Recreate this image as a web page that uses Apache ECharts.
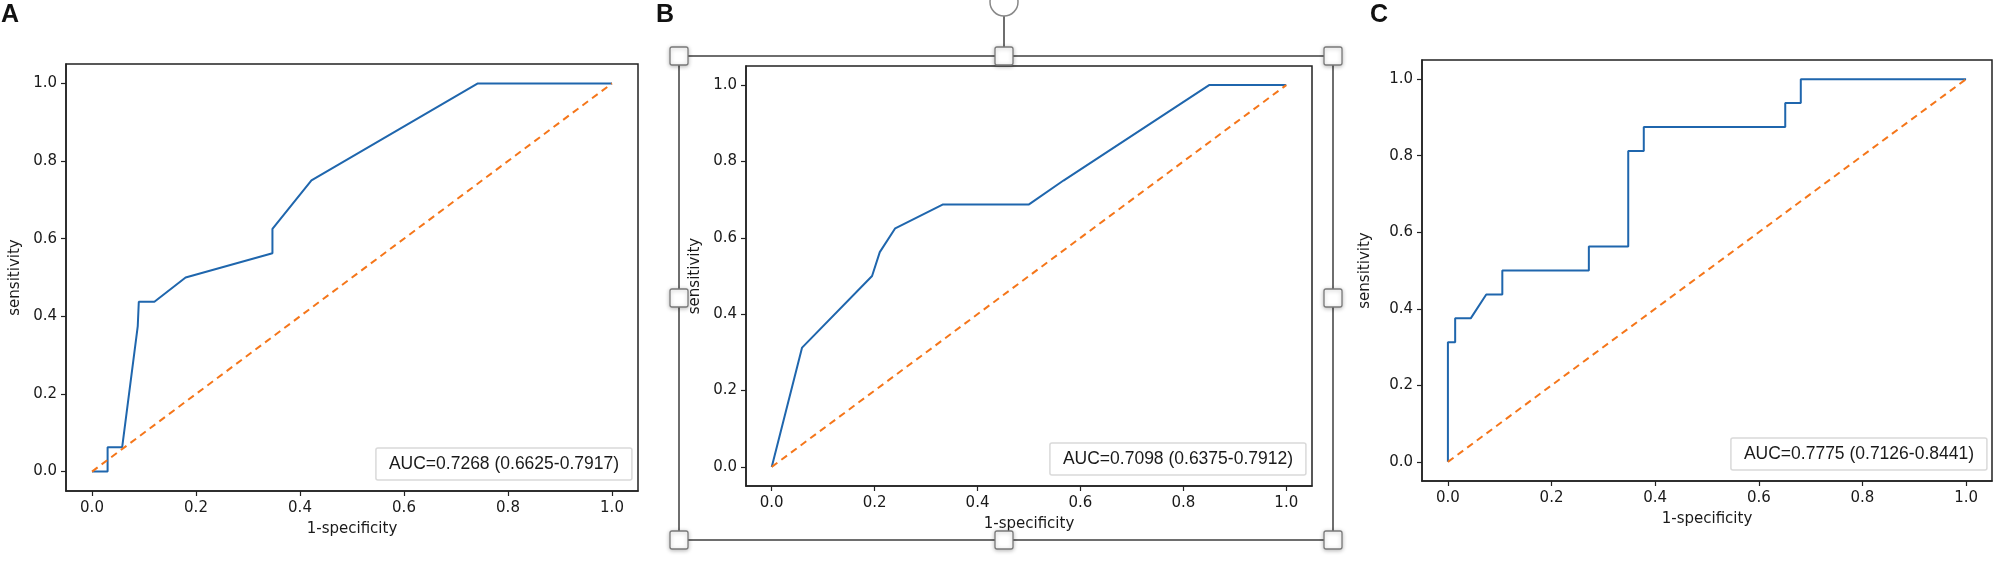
<!DOCTYPE html>
<html>
<head>
<meta charset="utf-8">
<title>ROC curves</title>
<script src="https://cdn.jsdelivr.net/npm/echarts@6/dist/echarts.min.js"></script>
<style>
  html, body { margin: 0; padding: 0; background: #fff; }
  #main { width: 2009px; height: 561px; }
</style>
</head>
<body>
<div id="main"></div>
<script>
// ROC points (x = 1-specificity, y = sensitivity)
var fprA = [0, 0.03, 0.03, 0.058, 0.088, 0.09, 0.12, 0.18, 0.347, 0.347, 0.422, 0.742, 1.0];
var tprA = [0, 0, 0.0625, 0.0625, 0.375, 0.4375, 0.4375, 0.5, 0.5625, 0.625, 0.75, 1.0, 1.0];

var fprB = [0, 0.059, 0.195, 0.21, 0.24, 0.333, 0.5, 0.567, 0.85, 1.0];
var tprB = [0, 0.3125, 0.5, 0.5625, 0.625, 0.6875, 0.6875, 0.75, 1.0, 1.0];

var fprC = [0, 0, 0.014, 0.014, 0.044, 0.074, 0.105, 0.105, 0.272, 0.272, 0.348, 0.348, 0.378, 0.378, 0.651, 0.651, 0.681, 0.681, 1.0];
var tprC = [0, 0.3125, 0.3125, 0.375, 0.375, 0.4375, 0.4375, 0.5, 0.5, 0.5625, 0.5625, 0.8125, 0.8125, 0.875, 0.875, 0.9375, 0.9375, 1.0, 1.0];

var chance = [0, 1];
var ticks = [0, 0.2, 0.4, 0.6, 0.8, 1.0];
var panels = ['A', 'B', 'C'];
var aucLabels = [
    'AUC=0.7268 (0.6625-0.7917)',
    'AUC=0.7098 (0.6375-0.7912)',
    'AUC=0.7775 (0.7126-0.8441)'
];

function pairs(xs, ys) {
    var out = [];
    for (var i = 0; i < xs.length; i++) out.push([xs[i], ys[i]]);
    return out;
}

var myChart = echarts.init(document.getElementById('main'));

var grids = [
    { left: 66, top: 64, width: 572, height: 427 },
    { left: 746, top: 66, width: 566, height: 420 },
    { left: 1422, top: 60, width: 570, height: 421 }
];
var yNameGap = [43, 43, 49];
var legendPos = [
    { right: 1377, bottom: 81 },
    { right: 703, bottom: 86 },
    { right: 22, bottom: 91 }
];
var rocs = [pairs(fprA, tprA), pairs(fprB, tprB), pairs(fprC, tprC)];

var tickFont = { fontFamily: 'DejaVu Sans', fontSize: 15, color: '#1a1a1a' };

var xAxes = [], yAxes = [], series = [], titles = [], gridOpts = [];
for (var i = 0; i < 3; i++) {
    gridOpts.push({
        left: grids[i].left, top: grids[i].top,
        width: grids[i].width, height: grids[i].height,
        show: true, borderColor: '#222', borderWidth: 1.5,
        backgroundColor: '#fff'
    });
    xAxes.push({
        type: 'value', gridIndex: i, min: -0.05, max: 1.05,
        name: '1-specificity', nameLocation: 'middle', nameGap: 31,
        nameTextStyle: tickFont,
        axisLine: { show: true, onZero: false, lineStyle: { color: '#222', width: 1.5 } },
        axisTick: { show: true, length: 5, customValues: ticks, lineStyle: { color: '#222', width: 1.2 } },
        axisLabel: {
            customValues: ticks, margin: 10,
            fontFamily: tickFont.fontFamily, fontSize: tickFont.fontSize, color: tickFont.color,
            formatter: function (v) { return v.toFixed(1); }
        },
        splitLine: { show: false }
    });
    yAxes.push({
        type: 'value', gridIndex: i, min: -0.05, max: 1.05,
        name: 'sensitivity', nameLocation: 'middle', nameGap: yNameGap[i],
        nameTextStyle: tickFont,
        axisLine: { show: true, onZero: false, lineStyle: { color: '#222', width: 1.5 } },
        axisTick: { show: true, length: 5, customValues: ticks, lineStyle: { color: '#222', width: 1.2 } },
        axisLabel: {
            customValues: ticks, margin: 9,
            fontFamily: tickFont.fontFamily, fontSize: tickFont.fontSize, color: tickFont.color,
            formatter: function (v) { return v.toFixed(1); }
        },
        splitLine: { show: false }
    });
    series.push({
        name: aucLabels[i], type: 'line', xAxisIndex: i, yAxisIndex: i,
        data: rocs[i], showSymbol: false, symbol: 'none',
        lineStyle: { color: '#1f66ad', width: 2 },
        itemStyle: { color: '#1f66ad' }
    });
    series.push({
        name: 'chance ' + panels[i], type: 'line', xAxisIndex: i, yAxisIndex: i,
        data: pairs(chance, chance), showSymbol: false, symbol: 'none',
        lineStyle: { color: '#f5761a', width: 2, type: [7, 5] },
        itemStyle: { color: '#f5761a' }
    });
    titles.push({
        text: aucLabels[i],
        right: legendPos[i].right, bottom: legendPos[i].bottom,
        padding: [6, 13],
        backgroundColor: 'rgba(255,255,255,0.85)',
        borderColor: '#d9d9d9', borderWidth: 1.5, borderRadius: 2,
        textStyle: {
            fontFamily: 'Liberation Sans', fontSize: 17.5, fontWeight: 'normal',
            color: '#1a1a1a', lineHeight: 20
        }
    });
}

// panel letters
var graphics = [
    { type: 'text', left: 1, top: 3, style: { text: panels[0], font: 'bold 25px "Liberation Sans"', fill: '#111' } },
    { type: 'text', left: 656, top: 3, style: { text: panels[1], font: 'bold 25px "Liberation Sans"', fill: '#111' } },
    { type: 'text', left: 1370, top: 3, style: { text: panels[2], font: 'bold 25px "Liberation Sans"', fill: '#111' } }
];

// selection frame with handles drawn over panel B (editor artefact in the figure)
var selL = 679, selR = 1333, selT = 56, selB = 540, selM = 1004, selMidY = 298;
var frameStroke = { stroke: '#6e6e6e', lineWidth: 2 };
graphics.push(
    { type: 'line', shape: { x1: selL, y1: selT, x2: selR, y2: selT }, style: frameStroke, z: 50 },
    { type: 'line', shape: { x1: selL, y1: selB, x2: selR, y2: selB }, style: frameStroke, z: 50 },
    { type: 'line', shape: { x1: selL, y1: selT, x2: selL, y2: selB }, style: frameStroke, z: 50 },
    { type: 'line', shape: { x1: selR, y1: selT, x2: selR, y2: selB }, style: frameStroke, z: 50 },
    { type: 'line', shape: { x1: selM, y1: 16, x2: selM, y2: selT }, style: frameStroke, z: 50 },
    { type: 'circle', shape: { cx: selM, cy: 2, r: 14 }, style: { fill: '#fff', stroke: '#888', lineWidth: 1.5 }, z: 51 }
);
var handles = [
    [selL, selT], [selM, selT], [selR, selT],
    [selL, selMidY], [selR, selMidY],
    [selL, selB], [selM, selB], [selR, selB]
];
handles.forEach(function (h) {
    graphics.push({
        type: 'rect', z: 52,
        shape: { x: h[0] - 9, y: h[1] - 9, width: 18, height: 18, r: 2 },
        style: {
            fill: '#fff', stroke: '#7a7a7a', lineWidth: 1.3,
            shadowBlur: 4, shadowColor: 'rgba(0,0,0,0.25)', shadowOffsetY: 1
        }
    });
});

var option = {
    animation: false,
    backgroundColor: '#fff',
    title: titles,
    grid: gridOpts,
    xAxis: xAxes,
    yAxis: yAxes,
    series: series,
    graphic: graphics
};

myChart.setOption(option);

window.onresize = function () {
    myChart.resize();
};
</script>
</body>
</html>
